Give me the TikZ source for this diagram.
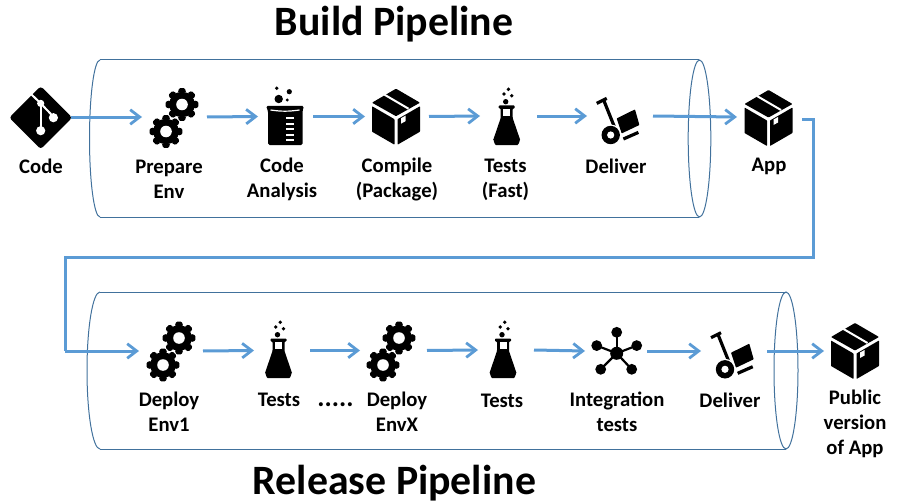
\documentclass[tikz,border=0pt]{standalone}
\usepackage{fontspec}
\setmainfont{Carlito}
\usetikzlibrary{arrows.meta}
\tikzset{
  cyl/.style={draw=cylblue,line width=1pt},
  flow/.style={draw=flowblue,line width=3pt,-{Straight Barb[length=9.5pt,width=14.5pt,line width=2.8pt]}},
  route/.style={draw=flowblue,line width=3pt,line join=miter},
  slot/.style={inner sep=0pt,outer sep=0pt,minimum height=1pt},
  lab/.style={font=\fontsize{20.7}{25}\selectfont\bfseries,align=center,inner sep=0pt},
  dots/.style={font=\fontsize{27}{27}\selectfont\bfseries,inner sep=0pt},
  ttl/.style={font=\fontsize{41.8}{44}\selectfont\bfseries,inner sep=0pt},
  pics/icgear/.style={code={
    \foreach \a in {0,45,...,315}{
      \fill[black,rotate=\a,rounded corners=1pt] (-4.2,-12)--(-2.8,-16.3)--(2.8,-16.3)--(4.2,-12)--cycle;}
    \fill[black] (0,0) circle[radius=12.8];
    \fill[white] (0,0) circle[radius=5.8];
  }},
  pics/icgears/.style={code={
    \pic at (8,-13) {icgear};
    \pic at (-8,14) {icgear};
  }},
  pics/icbox/.style={code={
    \fill[black,rounded corners=.6pt] (0,-28)--(24,-14)--(0,-0.5)--(-24,-14)--cycle;
    \draw[white,line width=2pt] (-11.5,-22)--(12.5,-8);
    \fill[black,rounded corners=.6pt] (-24,-10.5)--(-1.5,2.5)--(-1.5,28)--(-24,15)--cycle;
    \fill[black,rounded corners=.6pt] (24,-10.5)--(1.5,2.5)--(1.5,28)--(24,15)--cycle;
    \fill[white] (5,1.5)--(9.5,-1)--(9.5,4.5)--(5,7)--cycle;
  }},
  pics/icflask/.style={code={
    \fill[black] (1.7,-35.7) circle[radius=1.9] (-2.7,-31) circle[radius=1.9]
      (5,-29.3) circle[radius=1.9] (-1,-23.3) circle[radius=2.7];
    \fill[black,rounded corners=.8pt] (-8,-19.5)--(8,-19.5)--(8,-16.5)--(6,-16.5)--(6,-7)--(13.5,15)
      to[out=90,in=0] (10,20)--(-10,20) to[out=180,in=90] (-13.5,15)--(-6,-7)--(-6,-16.5)--(-8,-16.5)--cycle;
    \fill[white] (-3.5,-16)--(3.5,-16)--(3.5,-9.5)--(-3.5,-9.5)--cycle;
  }},
  pics/icbeaker/.style={code={
    \fill[black] (-8.3,-36.7) circle[radius=1.9] (4.3,-33.3) circle[radius=2.6]
      (-6.3,-26) circle[radius=4.2] (2.3,-25) circle[radius=1.6];
    \fill[black,rounded corners=1.5pt] (-19,-19)--(19,-19)--(17.5,-14)--(17.5,20)--(-17,20)--(-17,-14)--cycle;
    \draw[white,line width=1.2pt] (-14.5,-15) to[bend right=8] (14.5,-15);
    \foreach \yy/\xx in {-8/8.5,-2.5/8.5,3/8.5,8.5/8.5,14/8.5}{
      \fill[white] (0.7,\yy) rectangle (\xx,\yy+2.4);}
  }},
  pics/icdolly/.style={code={
    \draw[black,line width=3.2pt] (-22,-13.3)--(-12,-18.3);
    \draw[black,line width=3.2pt] (-15.3,-17.3)--(-3.7,11.7);
    \fill[black,rounded corners=.6pt] (-2,1.7)--(16.3,-7.3)--(20.7,8.3)--(3,16.7)--cycle;
    \draw[black,line width=3.2pt] (4.7,22.3)--(19.7,15.7);
    \fill[white] (-8,18.3) circle[radius=10.5];
    \fill[black] (-8,18.3) circle[radius=9.2];
    \fill[white] (-8,18.3) circle[radius=3.6];
  }},
  pics/icgit/.style={code={
    \fill[black,rounded corners=3pt] (0,-31.5)--(31.5,0)--(0,31.5)--(-31.5,0)--cycle;
    \draw[white,line width=2pt] (-9.5,-23.5)--(0,-14.3)--(12.7,-1);
    \draw[white,line width=2pt] (0,-14.3)--(0,13);
    \fill[white] (0,-14.3) circle[radius=3.6] (12.7,0) circle[radius=4.6] (0,13) circle[radius=4.6];
  }},
  pics/icnet/.style={code={
    \foreach \p in {(0,-21),(20,-7.7),(15,16),(-16,16),(-20,-7.7)}{
      \draw[black,line width=2.2pt] (0,0)--\p;
      \fill[black] \p circle[radius=5.4];}
    \fill[black] (0,0) circle[radius=6.5];
  }},
}
\definecolor{cylblue}{HTML}{41719C}
\definecolor{flowblue}{HTML}{5B9BD5}
\begin{document}
\begin{tikzpicture}[x=1pt,y=-1pt]
\useasboundingbox (0,0) rectangle (903,503);
% cylinders
\draw[cyl] (100,60)--(699,60) (100,217)--(699,217);
\draw[cyl] (100,60) arc[start angle=270,end angle=90,x radius=10.5,y radius=78.5];
\draw[cyl] (699.5,138.5) ellipse[x radius=11.3,y radius=78.5];
\draw[cyl] (100,292)--(786,292) (100,449)--(786,449);
\draw[cyl] (100,292) arc[start angle=270,end angle=90,x radius=13,y radius=78.5];
\draw[cyl] (786,370.5) ellipse[x radius=12,y radius=78.5];
% titles
\node[ttl] (tb) at (394,24) {Build Pipeline};
\node[ttl] (tr) at (394.5,483) {Release Pipeline};
% anchor slots
\node[slot,minimum width=60pt] (git) at (41,117) {};
\node[slot,minimum width=65pt] (prep) at (174.5,117) {};
\node[slot,minimum width=55pt] (beak) at (285.5,116.5) {};
\node[slot,minimum width=64pt] (comp) at (397,116.5) {};
\node[slot,minimum width=57pt] (fast) at (508.5,116) {};
\node[slot,minimum width=66pt] (dlv) at (620,116) {};
\node[slot,minimum width=65pt] (app) at (769.5,117) {};
\node[slot,minimum width=64pt] (dep1) at (171,351) {};
\node[slot,minimum width=56pt] (tst1) at (282,350.5) {};
\node[slot,minimum width=67pt] (dep2) at (393.5,350.5) {};
\node[slot,minimum width=56pt] (tst2) at (506,350) {};
\node[slot,minimum width=62pt] (intg) at (616,351) {};
\node[slot,minimum width=66pt] (dlv2) at (734,351) {};
\node[slot,minimum width=62pt] (pub) at (855,351) {};
% icons
\pic at (40.7,117.7) {icgit};
\pic at (174,117.5) {icgears};
\pic at (285,125) {icbeaker};
\pic at (396,116.7) {icbox};
\pic at (506.7,125) {icflask};
\pic at (618.7,116.7) {icdolly};
\pic at (768.5,118) {icbox};
\pic at (171,351) {icgears};
\pic at (278.5,358) {icflask};
\pic at (391,351) {icgears};
\pic at (503,358) {icflask};
\pic at (616.7,353.3) {icnet};
\pic at (733,351) {icdolly};
\pic at (855,351) {icbox};
% connectors
\draw[flow] (git.east)--(prep.west);
\draw[flow] (prep.east)--(beak.west);
\draw[flow] (beak.east)--(comp.west);
\draw[flow] (comp.east)--(fast.west);
\draw[flow] (fast.east)--(dlv.west);
\draw[flow] (dlv.east)--(app.west);
\coordinate (appout) at (802,119);
\coordinate (turna) at (813,257);
\coordinate (turnb) at (65,351);
\draw[route] (appout)-|(turna)-|(turnb);
\draw[flow] (turnb)--(dep1.west);
\draw[flow] (dep1.east)--(tst1.west);
\draw[flow] (tst1.east)--(dep2.west);
\draw[flow] (dep2.east)--(tst2.west);
\draw[flow] (tst2.east)--(intg.west);
\draw[flow] (intg.east)--(dlv2.west);
\draw[flow] (dlv2.east)--(pub.west);
% labels
\node[lab] (l1) at (41,166.5) {Code};
\node[lab] (l2) at (169,179.5) {Prepare\\Env};
\node[lab] (l3) at (282,179.5) {Code\\Analysis};
\node[lab] (l4) at (397,179) {Compile\\(Package)};
\node[lab] (l5) at (505.5,179.5) {Tests\\(Fast)};
\node[lab] (l6) at (616,166) {Deliver};
\node[lab] (l7) at (769,166.5) {App};
\node[lab] (l8) at (169,412) {Deploy\\Env1};
\node[lab] (l9) at (279,400) {Tests};
\node[dots] (l10) at (335.5,405) {.....};
\node[lab] (l11) at (397,412) {Deploy\\EnvX};
\node[lab] (l12) at (502,400.5) {Tests};
\node[lab] (l13) at (617,412) {Integration\\tests};
\node[lab] (l14) at (730,400) {Deliver};
\node[lab] (l15) at (855,423.5) {Public\\version\\of App};
\end{tikzpicture}
\end{document}
